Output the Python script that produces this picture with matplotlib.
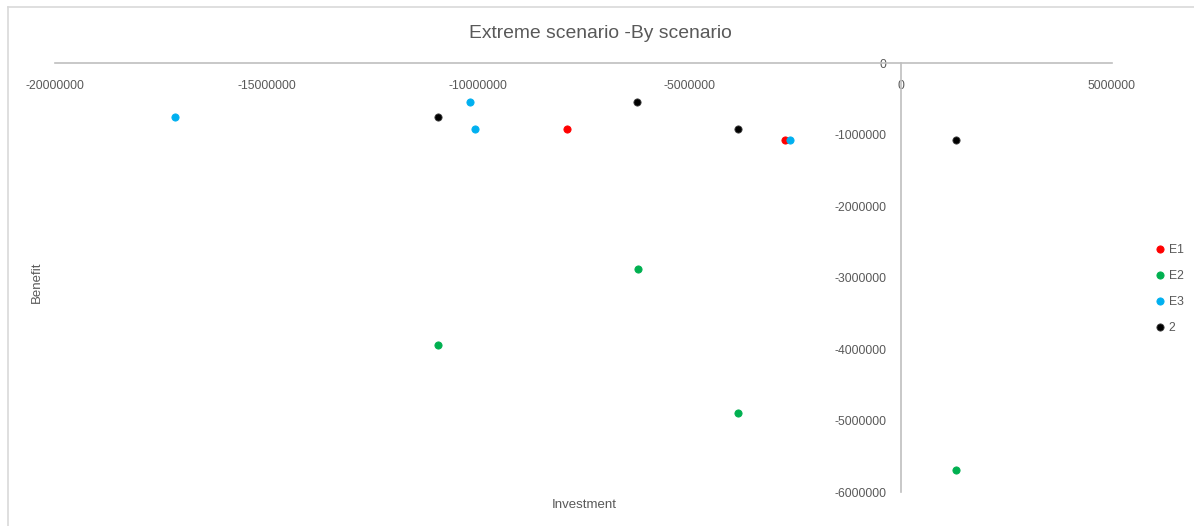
import matplotlib.pyplot as plt
from matplotlib.lines import Line2D

# investment / benefit per scenario
e1_x = [-7900000, -2740000]
e1_y = [-920000, -1080000]

e2_x = [-10950000, -6220000, -3850000, 1320000]
e2_y = [-3940000, -2880000, -4900000, -5690000]

e3_x = [-17160000, -10190000, -10070000, -2620000]
e3_y = [-755000, -545000, -920000, -1080000]

s2_x = [-10950000, -6240000, -3850000, 1320000]
s2_y = [-755000, -545000, -920000, -1080000]

series = [
    ("E1", e1_x, e1_y, "#FF0000"),
    ("E2", e2_x, e2_y, "#00B050"),
    ("E3", e3_x, e3_y, "#00B0F0"),
    ("2", s2_x, s2_y, "#000000"),
]

x_ticks = [-20000000, -15000000, -10000000, -5000000, 0, 5000000]
y_ticks = [0, -1000000, -2000000, -3000000, -4000000, -5000000, -6000000]

plt.rcParams['font.family'] = ['Liberation Sans', 'DejaVu Sans']
text_col = "#595959"
axis_col = "#BFBFBF"

fig = plt.figure(figsize=(11.94, 5.26), dpi=100)
# chart frame edge (top and left only)
fig.add_artist(Line2D([0.007, 1.0], [0.986, 0.986], transform=fig.transFigure,
                      color="#D9D9D9", linewidth=1.2))
fig.add_artist(Line2D([0.007, 0.007], [0.0, 0.986], transform=fig.transFigure,
                      color="#D9D9D9", linewidth=1.2))

ax = fig.add_axes([0.0461, 0.0646, 0.8852, 0.8156])

for name, xs, ys, col in series:
    edge = "#404040" if col == "#000000" else col
    ax.plot(xs, ys, linestyle="none", marker="o", markersize=5.2,
            markerfacecolor=col, markeredgecolor=edge, markeredgewidth=0.6,
            label=name)

ax.set_xlim(-20000000, 5000000)
ax.set_ylim(-6000000, 0)

# axes cross at the origin
ax.spines['left'].set_position(('data', 0))
ax.spines['bottom'].set_position(('data', 0))
ax.spines['right'].set_visible(False)
ax.spines['top'].set_visible(False)
for sp in ('left', 'bottom'):
    ax.spines[sp].set_color(axis_col)
    ax.spines[sp].set_linewidth(1.2)

ax.set_xticks(x_ticks)
ax.set_xticklabels([str(v) for v in x_ticks])
ax.set_yticks(y_ticks)
ax.set_yticklabels([str(v) for v in y_ticks])
ax.tick_params(axis='both', length=0, labelsize=8.8, labelcolor=text_col)
ax.tick_params(axis='x', pad=12)
ax.tick_params(axis='y', pad=10)

fig.text(0.503, 0.937, "Extreme scenario -By scenario", ha="center", va="center",
         fontsize=13.9, color=text_col)
fig.text(0.489, 0.04, "Investment", ha="center", va="center", fontsize=9.5, color=text_col)
fig.text(0.031, 0.464, "Benefit", ha="center", va="center", rotation=90, fontsize=9.5, color=text_col)

ax.legend(loc="center left", bbox_to_anchor=(1.04, 0.473), frameon=False,
          fontsize=8.8, labelcolor=text_col, handletextpad=0.2, labelspacing=1.15,
          handlelength=1.0, borderaxespad=0, borderpad=0)

fig.savefig("out.png", dpi=100)
